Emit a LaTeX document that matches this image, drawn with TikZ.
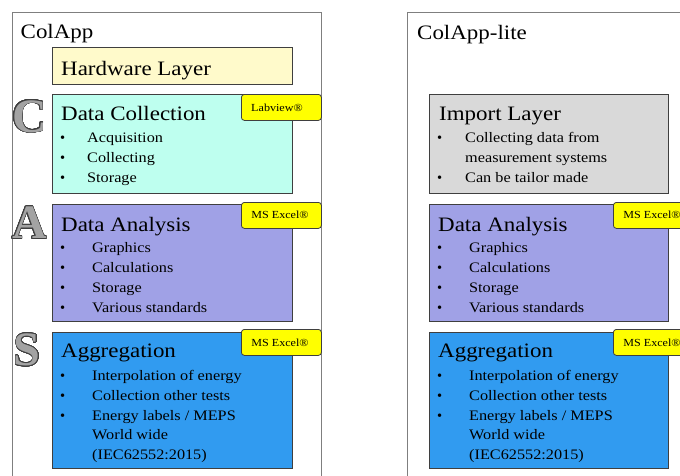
\documentclass[tikz,border=0pt]{standalone}
\usepackage{fontspec}
\setmainfont{Liberation Serif}
\usepackage{contour}
\contourlength{0.6pt}
\contournumber{32}

\definecolor{framegray}{HTML}{7F7F7F}
\definecolor{edge}{HTML}{3F3F3F}
\definecolor{hwfill}{HTML}{FFFACB}
\definecolor{dcfill}{HTML}{BEFFEF}
\definecolor{dafill}{HTML}{A0A1E6}
\definecolor{agfill}{HTML}{319BF0}
\definecolor{imfill}{HTML}{D9D9D9}
\definecolor{tagfill}{HTML}{FFFF00}
\definecolor{lettergray}{HTML}{A3A3A3}

% slightly widened lettering
\newcommand{\wide}[1]{\scalebox{1.12}[1]{#1}}

\tikzset{
  frame/.style={draw=framegray, line width=0.8pt},
  layer/.style={draw=edge, line width=0.9pt, anchor=north west, inner sep=0pt},
  tagbox/.style={draw=edge, line width=0.8pt, fill=tagfill, rounded corners=3pt,
    anchor=north west, inner sep=0pt, minimum width=80pt, minimum height=26pt},
  tagtext/.style={anchor=base, inner sep=0pt, font=\fontsize{10.8}{12}\selectfont},
  heading/.style={anchor=base west, inner sep=0pt, font=\fontsize{20.5}{24}\selectfont},
  apptitle/.style={anchor=base west, inner sep=0pt, font=\fontsize{20.5}{24}\selectfont},
  item/.style={anchor=base west, inner sep=0pt, font=\fontsize{14.5}{17}\selectfont},
  dot/.style={anchor=base west, inner sep=0pt, font=\fontsize{14.5}{17}\selectfont},
  initial/.style={anchor=base, inner sep=0pt, font=\bfseries\fontsize{48}{48}\selectfont}
}

\begin{document}
\begin{tikzpicture}[x=1pt, y=-1pt]
\useasboundingbox (0,0) rectangle (680,475);
\clip (0,0) rectangle (680,475);

% ---------- ColApp ----------
\draw[frame] (12,12) rectangle (321,495);
\node[apptitle] (colapp) at (20.5,38.5) {\wide{ColApp}};

\node[layer, fill=hwfill, minimum width=240pt, minimum height=37pt] (hw) at (52,47) {};
\node[heading] (hwt) at (61,75) {\wide{Hardware Layer}};

% Data Collection
\node[layer, fill=dcfill, minimum width=240pt, minimum height=99pt] (dc) at (52,94) {};
\node[heading] (dct) at (61,120.5) {\wide{Data Collection}};
\node[dot] (dcb1) at (60,142) {•};
\node[item] (dci1) at (87,142) {\wide{Acquisition}};
\node[dot] (dcb2) at (60,162) {•};
\node[item] (dci2) at (87,162) {\wide{Collecting}};
\node[dot] (dcb3) at (60,182) {•};
\node[item] (dci3) at (87,182) {\wide{Storage}};
\node[tagbox] (tagdc) at (241,94) {};
\node[tagtext] (tagdct) at (277,111) {\wide{Labview®}};

% Data Analysis
\node[layer, fill=dafill, minimum width=240pt, minimum height=117pt] (da) at (52,204) {};
\node[heading] (dat) at (61,231) {\wide{Data Analysis}};
\node[dot] (dab1) at (60,252) {•};
\node[item] (dai1) at (92,252) {\wide{Graphics}};
\node[dot] (dab2) at (60,272) {•};
\node[item] (dai2) at (92,272) {\wide{Calculations}};
\node[dot] (dab3) at (60,292) {•};
\node[item] (dai3) at (92,292) {\wide{Storage}};
\node[dot] (dab4) at (60,312) {•};
\node[item] (dai4) at (92,312) {\wide{Various standards}};
\node[tagbox] (tagda) at (241,202) {};
\node[tagtext] (tagdat) at (280,218.5) {\wide{MS Excel®}};

% Aggregation
\node[layer, fill=agfill, minimum width=240pt, minimum height=136pt] (ag) at (52,332) {};
\node[heading] (agt) at (61,357.5) {\wide{Aggregation}};
\node[dot] (agb1) at (60,380) {•};
\node[item] (agi1) at (92,380) {\wide{Interpolation of energy}};
\node[dot] (agb2) at (60,400) {•};
\node[item] (agi2) at (92,400) {\wide{Collection other tests}};
\node[dot] (agb3) at (60,420) {•};
\node[item] (agi3) at (92,420) {\wide{Energy labels / MEPS}};
\node[item] (agi4) at (92,439.5) {\wide{World wide}};
\node[item] (agi5) at (92,459) {\wide{(IEC62552:2015)}};
\node[tagbox] (tagag) at (241,329) {};
\node[tagtext] (tagagt) at (280,346) {\wide{MS Excel®}};

% C / A / S initials
\node[initial] (ltrC) at (29.5,132) {\contour{edge}{\textcolor{lettergray}{C}}};
\node[initial] (ltrA) at (29.5,238.5) {\contour{edge}{\textcolor{lettergray}{A}}};
\node[initial] (ltrS) at (27,365.5) {\contour{edge}{\textcolor{lettergray}{S}}};

% ---------- ColApp-lite ----------
\draw[frame] (407,12) rectangle (700,495);
\node[apptitle] (lite) at (417,39) {\wide{ColApp-lite}};

% Import Layer
\node[layer, fill=imfill, minimum width=239pt, minimum height=99pt] (im) at (429,94) {};
\node[heading] (imt) at (439,120) {\wide{Import Layer}};
\node[dot] (imb1) at (437,142) {•};
\node[item] (imi1) at (465,142) {\wide{Collecting data from}};
\node[item] (imi2) at (465,162) {\wide{measurement systems}};
\node[dot] (imb2) at (437,182) {•};
\node[item] (imi3) at (465,182) {\wide{Can be tailor made}};

% Data Analysis (lite)
\node[layer, fill=dafill, minimum width=239pt, minimum height=117pt] (da2) at (429,204) {};
\node[heading] (da2t) at (438,231.5) {\wide{Data Analysis}};
\node[dot] (da2b1) at (437,252) {•};
\node[item] (da2i1) at (469,252) {\wide{Graphics}};
\node[dot] (da2b2) at (437,272) {•};
\node[item] (da2i2) at (469,272) {\wide{Calculations}};
\node[dot] (da2b3) at (437,292) {•};
\node[item] (da2i3) at (469,292) {\wide{Storage}};
\node[dot] (da2b4) at (437,312) {•};
\node[item] (da2i4) at (469,312) {\wide{Various standards}};
\node[tagbox] (tagda2) at (613,202) {};
\node[tagtext] (tagda2t) at (652,218.5) {\wide{MS Excel®}};

% Aggregation (lite)
\node[layer, fill=agfill, minimum width=239pt, minimum height=136pt] (ag2) at (429,332) {};
\node[heading] (ag2t) at (438,357) {\wide{Aggregation}};
\node[dot] (ag2b1) at (437,380) {•};
\node[item] (ag2i1) at (469,380) {\wide{Interpolation of energy}};
\node[dot] (ag2b2) at (437,400) {•};
\node[item] (ag2i2) at (469,400) {\wide{Collection other tests}};
\node[dot] (ag2b3) at (437,420) {•};
\node[item] (ag2i3) at (469,420) {\wide{Energy labels / MEPS}};
\node[item] (ag2i4) at (469,439.5) {\wide{World wide}};
\node[item] (ag2i5) at (469,459) {\wide{(IEC62552:2015)}};
\node[tagbox] (tagag2) at (613,329) {};
\node[tagtext] (tagag2t) at (652,346) {\wide{MS Excel®}};
\end{tikzpicture}
\end{document}
